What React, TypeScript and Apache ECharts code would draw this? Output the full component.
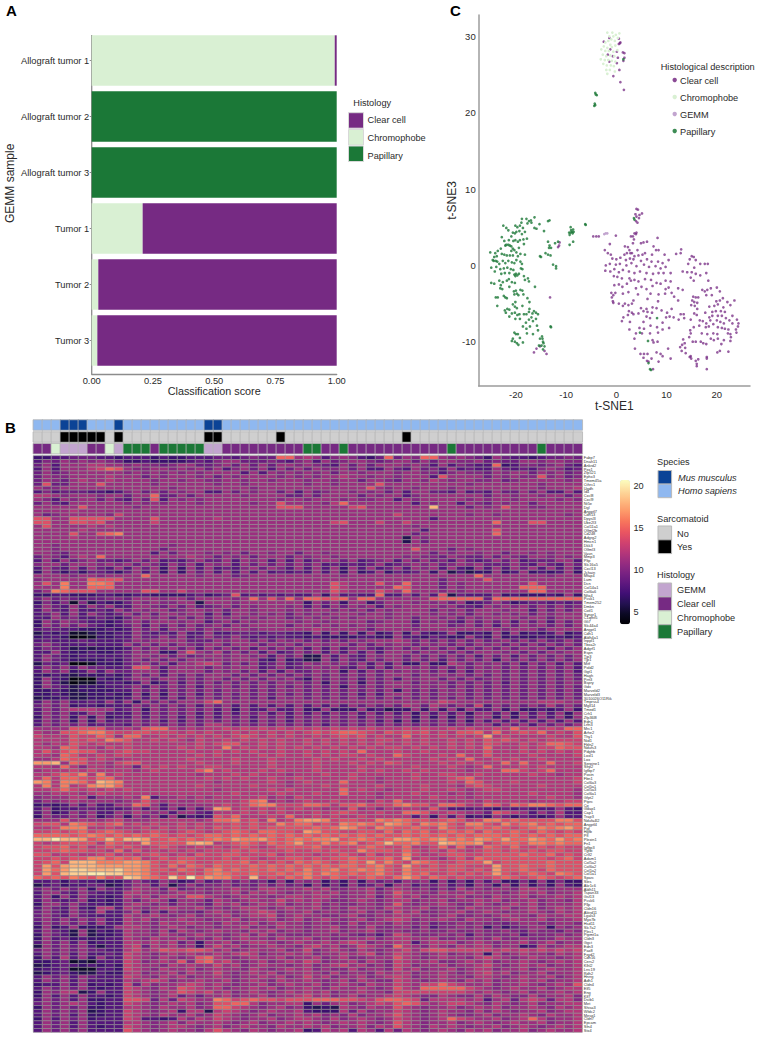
import React, { useEffect, useRef } from "react";
import * as echarts from "echarts";

const FONT = "Liberation Sans, Arial, sans-serif";
const INK = "#2a2a2a";
const COL_CLEAR = "#762a83";
const COL_CHROMO = "#d9f0d3";
const COL_GEMM = "#c2a5cf";
const COL_PAP = "#1b7837";

// Panel A
const samples = ["Allograft tumor 1", "Allograft tumor 2", "Allograft tumor 3", "Tumor 1", "Tumor 2", "Tumor 3"];
const scoreChromophobe = [0.992, 0, 0, 0.208, 0.027, 0.023];
const scoreClear = [0.008, 0, 0, 0.792, 0.973, 0.977];
const scorePapillary = [0, 1, 1, 0, 0, 0];

// Panel C
const chromoPts = [[-1.8,30.5],[-0.8,30.5],[0.6,30.4],[-1.4,30],[-0.6,30],[-0.1,30.2],[0.3,29.8],[-1,29.6],[-1.6,29.4],[-2.2,29.2],[-0.3,29.4],[-1.2,28.9],[-2.5,28.7],[-1.8,28.5],[-0.9,28.6],[-0.2,28.8],[-3,28.3],[-2.2,28.1],[-1.5,28.1],[-0.6,28],[0.2,28.2],[-2.7,27.6],[-2,27.4],[-1.2,27.5],[-0.4,27.4],[-3.1,27],[-2.3,26.9],[-1.6,26.9],[-0.9,26.8],[-0.2,26.7],[-2.6,26.4],[-1.9,26.2],[-1.1,26.2],[-0.5,26.1],[-2,25.6],[-1.3,25.6],[-1.8,25.1],[-0.3,25.4]];
const gemmPts = [[-2.1,4.2],[-2.4,4.1],[-1.8,4.2]];
const papillaryPts = [[-4.1,22.4],[-4.2,22.6],[-3.9,22.3],[-4.3,21.2],[-4.4,20.9],[-4.2,21],[1.4,27],
[-13.6,3.1],[-13.3,2.6],[-13.4,2.3],[-13,2.3],[-14.1,1.6],[-13.6,1.4],[-13.1,1.3],[-15.2,1.2],[-15,1.1],[-12.2,2.9],[-11.6,3.1],[-12,-0.1],[-12.6,0.1],[-12,-0.4],[-9.1,4.3],[-9,4.6],[-8.8,4.4],[-8.6,4.7],[-8.7,4.2],[-9.3,4],[-9.4,4.3],[-8.5,4.4],[-9.1,5],[-8.6,3.1],[-9.3,2.7],[-6.2,5.4],[-6.1,5.3],
[-22.5,5.2],[-21.9,4.9],[-21.5,4.6],[-20.1,5.2],[-19.7,5],[-18.9,5.6],[-18.8,6.1],[-17.9,6.1],[-17.4,5.8],[-17,5.9],[-16.3,6.3],[-17.7,5.5],[-16.9,5.6],[-15.3,5.4],[-16.3,4.9],[-15.9,4.8],[-14.4,4.5],[-13.6,5.8],[-13.3,5.9],[-19.2,5.2],[-18.6,4.9],[-20.6,4.3],[-20.2,4.2],[-19.9,4.4],[-19.3,4.5],[-18.8,4.1],[-18.2,4.4],[-20.9,3.8],
[-22.8,3.7],[-22.3,3.2],[-21.9,2.7],[-21.5,2.7],[-21.2,2.6],[-20.9,2.5],[-20.5,3.2],[-20.1,3.3],[-19.6,3.1],[-19.2,3.3],[-18.5,3.4],[-21.4,3.3],[-22.1,2.6],[-20.6,2.2],[-20.9,1.9],[-20.3,2],[-19.9,1.7],[-19.4,2.3],[-18.4,2.8],[-17.8,3.5],[-23,2.2],[-23.6,1.9],[-24.1,1.6],[-25.1,1.7],[-24.3,1.1],[-23.8,1.2],[-22.8,1.5],[-22.3,1.4],[-21.8,1.3],[-21.2,1.3],[-20.6,1.3],[-19.6,1.2],[-19.1,1.5],[-18.2,1.4],
[-24.6,0.7],[-24.4,0.6],[-24,0.6],[-23.7,0.5],[-23.3,0.2],[-22.6,0.6],[-22.1,0.3],[-21.5,0.6],[-20.8,0.4],[-20.3,0.3],[-19.9,0.7],[-19.1,0.5],[-18.8,0.2],[-24.9,-0.3],[-23.9,-0.2],[-23.1,-0.5],[-22.4,-0.4],[-21.7,-0.3],[-21,-0.5],[-20.5,-0.6],[-19,-0.4],[-18.7,-0.5],[-24.2,-0.8],[-22.9,-1.1],[-22.2,-1],[-21.3,-1],[-20.3,-1.2],[-20,-1.1],[-19.7,-1.3],[-19.4,-1.1],[-20.1,-1.4],[-18.4,-1.4],[-17.6,-1.7],[-24.9,-2.3],[-24.3,-2.4],[-23.3,-2],[-23,-2.6],[-22.6,-2.2],[-21.8,-2],[-21.4,-1.8],[-20.8,-2.2],[-20.2,-2.3],[-18.2,-1.9],[-17.4,-2.1],[-23.1,-3],[-22.7,-3.1],[-21.3,-2.8],[-19.1,-3.2],[-16.2,-2.8],
[-20.4,-3.4],[-20,-3.3],[-19.8,-3.7],[-20.3,-3.8],[-19.5,-3.9],[-18.7,-3.3],[-18.5,-3.8],[-24,-4.2],[-23.6,-4.2],[-22.4,-4],[-22.1,-4.2],[-21.8,-4.3],[-20.1,-4.8],[-17.7,-4.3],[-17.3,-4.8],[-23.7,-5.3],[-21.7,-5.7],[-21.3,-5.8],[-20.6,-5.1],[-20.2,-5.4],[-19.8,-5.6],[-18.7,-5.3],[-17.3,-5.7],[-22.2,-5.9],[-22,-6.2],[-20.8,-6.3],[-20.2,-6.2],[-19.7,-6.5],[-19.3,-6.4],[-18.4,-6.4],[-17.9,-6.4],[-17.4,-6.1],[-16.7,-6.3],[-16.4,-6],[-16,-6.2],[-15.6,-6.4],[-21.3,-6.7],[-20.1,-7],[-19.2,-7],[-16.9,-6.8],[-16,-7],[-18,-7.5],[-17.4,-7.1],[-16.6,-7.3],[-15.8,-7.9],[-13.1,-8],[-13,-8.1],[-18.6,-8],[-17.9,-8.3],[-17.2,-8],[-15.6,-8.5],
[-20.3,-8.8],[-20,-9],[-19.6,-9],[-19.2,-9.5],[-17.8,-8.9],[-16.6,-9],[-20.6,-9.6],[-20.2,-10],[-19.8,-10.2],[-19.5,-10.4],[-18.6,-10.1],[-20.8,-9.9],[-15.2,-9.6],[-14.8,-9.3],[-14.7,-9.6],[-14.6,-10],[-14.5,-10.2],[-14.3,-10.6],[-14.9,-10.5],[-15.4,-10.5],[-14.6,-11],[4.7,-8.8],[6.3,-9.9],[6.4,-12.8],[6.7,-13.6],[6.9,-13.7],[3.5,6.2],[3.6,6],[8.1,-6.9]];
const clearPts = [[-2.5,29.3],[-1.4,29.8],[0.5,29.7],[0.8,29.2],[0.5,29],[0.7,29.1],[-1.2,28.3],[0.1,28],[1.3,27.9],[1.6,27.8],[1.6,27.2],[1.4,26.8],[-1.7,27.6],[-0.7,27.4],[0.3,27.2],[-1.4,26.7],[0.1,26.5],[0.6,25.6],[-0.6,24.8],[0.8,24],[1.5,23],
[-16.4,-11.4],[-15.9,-10.9],[-15.2,-10.6],[-14.3,-11.2],[-13.9,-11.6],[-13.2,-4.2],[-11.3,3],[-11.4,2.6],[-11.6,2.4],
[4,7.4],[4.3,7.3],[3.8,6.7],[4.6,6.6],[5.1,6.8],[4,6.4],[4.5,6.2],[3.9,5.8],[4.2,5.6],[-4.6,3.8],[-4,3.8],[-3.5,3.8],[-0.1,3.9],[3.6,4.2],[3.9,4.1],[4,4.3],[2.9,3.8],[3.3,3.8],[3.5,3.4],[3.3,2.9],[4.9,2.9],[5.4,3],[6.1,3.1],[8.2,3.6],
[-1.3,2.8],[1.7,2.5],[2.3,2.4],[7.4,2.5],[7.9,2],[8.4,2],[-2.3,2],[-1.7,1.6],[-1.1,1.4],[2.6,2],[2.8,1.6],[4.2,2],[5.7,1.6],[1.6,1.4],[2.1,1.6],[3.1,1.6],[3.6,1.2],[4.4,1.3],[5.2,1.4],[7.1,1.4],[9.6,1.4],[12.9,2.1],[12.8,1.6],[11.9,1.5],[15,1.2],[15.4,1.1],[14.6,0.8],[15.8,0.7],
[-0.8,0.9],[0,0.8],[0.8,1],[1.9,0.7],[2.7,0.9],[3.4,0.8],[4.9,0.6],[6.1,0.8],[7,0.5],[8.3,0.5],[9.2,0.3],[10.4,0.7],[-2.1,0],[-1.3,0.2],[-0.1,0.1],[0.7,0.2],[2,0],[3,0.3],[4,-0.1],[5.5,0.1],[6.5,-0.2],[7.8,-0.1],[8.8,-0.4],[9.8,-0.2],[15.5,-0.3],[14.3,0.2],[16.7,0.2],[17.6,0.2],[18.2,0.2],
[-2.2,-0.7],[-1.2,-0.8],[-0.4,-0.5],[0.5,-0.9],[1.3,-0.6],[2.5,-0.8],[3.6,-1],[4.7,-0.8],[6,-1],[7.3,-1.1],[8.4,-1],[9.4,-1],[10.8,-1],[13.2,-0.8],[14.1,-0.9],[15,-0.9],[15.8,-1.1],[16.7,-1.3],[17.9,-1],
[-0.5,-1.4],[0.2,-1.5],[1.1,-1.7],[2.6,-1.7],[2.9,-2],[3.6,-1.9],[4.4,-2.1],[5.7,-1.8],[6.9,-1.9],[8,-2.3],[8.8,-2.4],[9.8,-2],[10.8,-2.1],[14.8,-1.6],[15.4,-2],[18.3,-2],
[-0.4,-2.6],[0.5,-2.5],[1.2,-2.8],[2.1,-2.4],[3.9,-3],[5,-2.8],[6,-3.1],[7.2,-2.7],[9.8,-3.1],[10.4,-2.9],[12.3,-3],[13.2,-3.2],[17.1,-3.2],[17.6,-3.4],[18.1,-3.2],[18.8,-3],[20,-2.9],[20.6,-3.4],[11,-3.6],
[-1,-3.6],[-0.6,-3.9],[-0.2,-3.6],[1.3,-3.7],[2.4,-3.5],[4.3,-3.8],[6.8,-3.7],[8.4,-3.8],[9.7,-3.7],[11.5,-4.1],[15.3,-4.1],[15.8,-4.2],[16.3,-4.2],[17.9,-3.9],[19,-3.9],[21.2,-4.3],
[-0.9,-4.2],[-0.7,-4.7],[3.4,-4.6],[6.2,-4.4],[8.3,-4.7],[12.3,-4.6],[15.1,-4.6],[15.5,-4.8],[16.1,-4.9],[19.9,-4.7],[20.6,-4.6],[22.1,-4.8],[23.5,-4.6],
[-0.6,-4.9],[0.5,-5],[1.3,-5.3],[1.7,-5],[2.4,-5.2],[3.1,-5],[4.9,-5.6],[7.2,-5.5],[8,-5.6],[14.9,-5.2],[15.6,-5.3],[16.1,-5.7],[18.5,-5.4],[19.5,-5.3],[20.2,-5.1],[21.3,-5.5],[22.7,-5.2],
[2.5,-6],[3.1,-6.2],[4.4,-6.3],[5.4,-6],[6,-5.7],[6.2,-6.1],[7.1,-6.2],[9,-5.9],[10.1,-6.2],[11,-5.7],[12.8,-6.4],[13.4,-6.4],[15.5,-6.3],[16,-6.5],[17.7,-6.2],[19.1,-6.1],[19.8,-6],[20.8,-6],[21.6,-6.1],[23.1,-6.6],
[1.4,-6.8],[2.3,-6.5],[3.4,-6.4],[6,-6.7],[6.7,-6.9],[9.9,-6.8],[10.6,-6.7],[11.4,-6.8],[12.4,-7.1],[13.5,-6.9],[16.6,-7.2],[18.5,-6.8],[19.1,-6.6],[20.2,-6.6],[21,-6.6],[21.8,-6.9],[22.5,-7.2],[24,-7.1],[1.1,-7.3],[2.7,-7.4],[5.4,-7.4],[9.2,-7.5],[14.8,-7.1],[17.2,-7.3],[17.9,-7.6],[18.7,-7.2],[19.3,-7.7],[20,-7.2],[20.7,-7.4],[21.4,-7.6],[23.1,-7.6],[24.3,-7.6],
[2.6,-8.4],[4.6,-8.2],[5.5,-8.3],[6.8,-7.9],[8.1,-8.1],[9.2,-8.4],[10.5,-8.2],[14.7,-8.5],[15.4,-8.1],[16.5,-7.9],[17.8,-8.1],[18.4,-8],[20.2,-8.1],[21,-8.2],[21.6,-8.3],[22.3,-8.4],[23.8,-8.4],[24.2,-8],[3.9,-8.9],[5.1,-8.9],[6.7,-8.9],[8.3,-8.8],[14.8,-8.9],[18.1,-9],[19.3,-8.9],[20.1,-9],[22.2,-8.9],[22.7,-9],[17,-8.9],[22.8,-9.4],[23.9,-8.8],
[3.6,-9.6],[7.2,-9.8],[8.2,-10],[13.3,-9.7],[14.5,-9.4],[18.8,-9.6],[19.4,-9.8],[20.2,-9.6],[21.4,-9.8],[22.7,-9.9],[7.4,-10.1],[13.1,-10.4],[13.6,-10.2],[15.2,-10],[15.8,-10],[16.8,-10],[17.3,-10.2],[17.9,-10.3],[10.3,-10.9],[12.7,-10.7],[13.7,-10.8],[20.9,-10.3],[22.3,-11.3],[3.7,-10.9],[4.8,-11.6],[5.5,-11.6],[6.2,-11.6],[8,-11.4],[8.8,-11.6],[9.2,-11.9],[13,-11.2],[13.8,-11.5],[14.6,-12],[14.9,-12.2],[18,-12],[18,-12.2],[20.1,-11.4],[20.6,-11.2],[5.4,-12.1],[6.1,-12.5],[7,-12.2],[8.4,-12.6],[10.8,-12.2],[14.8,-11.9],[16,-12.9],[16.3,-12.3],[15.8,-12.5],[6.4,-12.6],[16,-13.2],[18,-13.6],[7.3,-13.6]];

// Panel B annotation tracks, one code per sample
const speciesNames = ["Mus musculus", "Homo sapiens"];
const speciesColors = ["#0b4396", "#8fb8f0"];
const speciesTrack = [1,1,1,0,0,0,1,1,1,0,1,1,1,1,1,1,1,1,1,0,0,1,1,1,1,1,1,1,1,1,1,1,1,1,1,1,1,1,1,1,1,1,1,1,1,1,1,1,1,1,1,1,1,1,1,1,1,1,1,1,1];
const sarcoNames = ["No", "Yes"];
const sarcoColors = ["#cfcfcf", "#000000"];
const sarcoTrack = [0,0,0,1,1,1,1,1,0,1,0,0,0,0,0,0,0,0,0,1,1,0,0,0,0,0,0,1,0,0,0,0,0,0,0,0,0,0,0,0,0,1,0,0,0,0,0,0,0,0,0,0,0,0,0,0,0,0,0,0,0];
const histoNames = ["GEMM", "Clear cell", "Chromophobe", "Papillary"];
const histoColors = [COL_GEMM, COL_CLEAR, COL_CHROMO, COL_PAP];
const histoTrack = [1,1,2,0,0,0,1,1,2,0,3,3,3,1,3,3,3,3,3,0,0,1,1,1,1,1,1,1,1,1,3,3,1,1,3,1,1,1,1,1,1,1,1,1,1,1,3,1,1,1,1,1,1,1,1,1,3,1,1,1,1];

const genes = ["Fabp7","Dnah11","Ankrd2","Pex1","Zfp521","Ephx3","Tmem45a","Cthrc1","Ugdh","Id4",
"Cxcl8","Cxcl9","Nt5e","Dgl","Angptl7","Cdh13","Dpysl3","Ube2l3","Col11a1","Olfml2b",
"Cd248","Adgrg2","Hmcn1","Dkk3","Olfml3","Vasn","Mmp3","Pltp","Slc16a5","Cxcl13",
"Jchain","Mfap4","Lum","Dcn","Col14a1","Col6a6","Nfix4","Pcsk1","Tmem252","Dmkn",
"Cotl1","Syngr1","C1qtnf5","Gli7","Slc44a4","Angpt1","Cdh1","Aldh4a1","Inppl1","Tbxa2r",
"Adgrf1","Espn","Tjp3","Tjp1","Mitf","Pold2","Ggt1","Hagh","Prrt3","Bspry",
"Gdx","Marveld2","Marveld3","3010026O11Rik","Tmprss4","Mgll14","Tmed1","Crh1","Zfp36l8","Edn1",
"Lrfn3","Mrc1","Arhe2","Thy1","Nid1","Fbln2","Ndufs3","Pdgfrb","Loxl1","Lox",
"Serpine1","Sfrp2","Igfbp7","Postn","Fbn1","Col6a3","Col5a1","Col5a3","Col6a1","Gfpt2",
"Ptprc","Cp","Gdap1","Cap1","Trap3","Ndufa4l2","Angptl4","Pgf","Hgfb","Pfl",
"Plexin1","Fn1","Igfbp3","Tgfbi","Crlf2","Adam1","Col5a2","Col6a2","Col1a2","Col1a1",
"Sparc","Sles","Akr1c6","Aldh11","Tspan33","Gsf13","Pcsk6","Pllp","Cldn16","Aktrd11",
"Lgals3","Myo7b","Hsd11","Slc7a2","Plec1","Ptpmt1a","Cldn3","Ggct","Edn3","Pax8",
"Fxyd2","Cdh16","Cers2","Klhl2","Lrrc19","Rdh2","Hnrrg","Adh1","Cldn4","Elf5",
"Eng","Klf7","Dstb1","Met","Shisa3","Wfdc2","Mesp1","Cldn7","Epcam","Sfn4","Stx4"];

// Expression read per cell (base-36 digit, 4..k = 4..20); blocks of ten columns, last digit is column 61
const heatRows = [
"7788999887 8887877888 9989a99ffb cb8aba879f 9baffbaba9 7b9887899a 9",
"8a9bababa9 7787777898 abb999a98a b8b9abba9a bb9b9bbaab 9a99bbabba a",
"9b8bbbccbb abaa9abb99 ab9b9b9bba ba98b9b9bb baba8b8a98 8f78aa9ab9 8",
"8b8bbbcdfe baabbabab9 b8ab9b8b9b 9baab9b88b 98b9a8b898 8b9898aba8 9",
"9b9abbbbbb ababababab bbb8b8baba bab9bbabbb abbaa8abaa 9babb9bab9 a",
"9baabbbbcb bb9babbbab 9babbbbaba babbcbbabb abbb8ebbbb 9babaaeab9 a",
"9ba9bcbbcb bbbabbabba abbabbabbb abbabb9bba 9bbacbabba ab9abbbbba b",
"9e99bbbebb bbbabbbbbb abbabbbbbb abbabbbbeb bbbbbbbbab bbbbbbabbb b",
"baabbbbbbb bbbbbabbbb bbbbabbbbb bbbbbbbeba bbabbbabbb bbbbbbabbb c",
"8a89998878 ab9b9babb8 8b9babb9b8 b9abbabab9 b8bb998b89 8b99b9b88b 8",
"ccbabbbabb 9bbf99b9bb bbbabbbb99 b9bbbb9bab b8abbbbbbb 9bbabbabb9 b",
"ba8babb9b9 8b9e8babab bbbbbbbabb abbbabaabb 8babbbbbab abbabbbbab a",
"9b98bbbbbb abababbbab bbbbabbebb bbacfbbbbb bb8babb8ba 9babb9bbbb b",
"bbbbbebbbb babbbbbbbb bbbbbbbeee bbbbbdebbb bbbbibbb9b abebbaabbb b",
"bbbbcbbbbb bbbbbbbbbb bbbbbbbbbb bbbbbbbbbb bbbbbbbbbb bbbbbbbbbb b",
"b9abbbbbad bbbbbbbbbb bbbbbbbbbb bbbbbbbbbb dbbbbbbbab babbbbbbba b",
"eebbeeeeeb bbbebbbbbb cbbbbbbbbb bbbbbbbbbb bbbb8bbbbb bbbbbbbbbb b",
"eebbeedebb bbbdbbbbbb bbbbbbbbbb bbbdebbbdb bdbbbbbbbb bfbbbeebbb b",
"bebbbbcbcb bbbbbbbbbb bbbbbbbbbb bbbbbbbbbb bbabbbbbbb bbbbbbbbbb b",
"bbbbbcbbbb bbbbbbbbbb bbbbbbbbbb bbbbbbbbbb bbb8bbbbbb bebbbbbbbb b",
"bbbbebbefg bbbbbbbbbb bbbbbbbbbb bbbbbbbbbb bb9bbbbbbb bfbbbbbbbb b",
"bbbbcbbbbb bbbbbbbbbb bbbbbbbbbb bbbbbbbbbb b6babbbbbb bbbbbbbbbb b",
"bbbbbbbbbb bbbbbbbbbb bbbbbbbbbb bbbbbbbbbb b6b9bbbbbb bbbbbbbbbb b",
"bbabbbbbbb bbbbbabbbb bbbbbbbbbb bbbbbbbbbb bbbbbbbbbb bbbbbbbbbb b",
"bbabbbbbbb bbbb9bbbbb bbbbbbbbbb bbbbbbbbbb bbebbb9bab bbbbbbbbbb b",
"bba9bbbbbb bbb8b9bbba bab9bbabb9 bbabbbbbbb bbbb9babba bb9bbababb b",
"9ba8bcbfbb bbbbbbbcbb 9bab9bbb9b abbabbbbbb babaa9ba99 b9ba9bbaba b",
"8b8b9ab998 9b9b898ab9 9b8bab8b8b 8abb9b89ab 8b9b9a8b98 9b9b8999bb 8",
"abb9bbbaba b9ba8b9b8b ab8b9b9b9b 9b898989b8 9abab9abab 999b98b98b 9",
"8b98b8b98b 8b9b7b7b8b 898ab9ba8b 8b8b7b8b89 b8bab8b87b 8b8b9b8b8b 8",
"7b97979987 9b8b7b7b9b 8b8b8b8989 8b8b7b78b7 989b7b6867 7b78b7878b 7",
"bbbbabbabb bbfbbbbbab bb9abbbbbb bbbbabbbbb bbbbbbbbbf bbbbbbbabb b",
"abbbbbfeee bbbbbbbbbb bbbbbbbbbb bbbbbbbbbb bbbbb9bbbb ebbbbbbbbb b",
"bebgbbggfb bbbbbbbbbb bbbbbbbbbb bbbecbbbeb bfbbb9babb bbbbbebbbb b",
"bbbgbbfffb bbbbbbbbbb bbbbbbbbbb bbbecbbbbb febbb9babb bbbbfffbbb b",
"9bgfeeebbb bbeebbdbbb bbbbbbbbbb bbbecbbbec bfbbbababb bbbbbffbbb b",
"7788777887 7887777897 89e8989898 8b7c8988f8 8b8b8e6988 8b7877787b 7",
"9b9a9899aa 9bbbabb9bb bbabfbebfb ffeefbffbb bbbbefffff 9fffffffff f",
"7a8a5a6877 9babaabb6b bbabbbbbbb 7b9b7bb79b bbabab9b78 9b97899898 9",
"8b98b8b9b8 8bba9b9b89 ab9babbbab 8b8b9bab8b abbbbab998 babab9b9b9 a",
"8b98b8898b 9babb9abba b9bbabbbab abbabab9ba bbbb9bab9b bbabb8b9b9 b",
"89b8b8b989 b9b9bbabb8 b8bbabab9b ababbbabba bbbbabab9b babab9babb b",
"88b9a88987 9bbab9b9b9 babababb9a babababbba bb9bbab9ba bbbbabb9bb b",
"7b9ba98878 ab9bbbabb8 ab9babbbba bbabbbb9ab bb8bab98b9 b9b8b9b8b9 b",
"7b9b9b9878 9b8b9b9b9a b9babbbb9b bababababb bb9bbb9ab9 b8b9bab9b9 b",
"8998877787 8b9b8bab9b abbbabbbbb bcbbbbb9bb bbabbbbbbb bbabbb9bbb b",
"6878556778 8b9898b88b 8899989988 7b7b7b7b78 b7b878b778 7b7b7878b7 8",
"7887445778 8b99b9b89b 99b9898988 7877778877 b8879877b8 7b78778787 8",
"8988898888 9babbbb999 babb9b9bab 9b9b9babbb cb9b9b9b9b 9ab9b9b99b 9",
"9b98889888 b9b9b9ba9b b9bbb9bab9 bbabb9b9ba bb9bab9b9b ab9b9b9b9b 9",
"8a98676777 8b9b9b9b8b 9b9b8b9b9b 8b8b8ab98a b9b9b9b8b9 b9b9bab8b9 b",
"88b8778778 9bab77beba c9b9b8b89b 9b8b8b8b8b bb9bab9b9b bbab9b9bab b",
"8b98788888 9bbab9b9ab babbab8b9b 66b8b98bab b9b9b9b9b8 b9b8b9b9b9 b",
"8b98777787 9b9b9b9bba babbb87b78 66b8b98b9b b9b9b8b9b9 b7b9b9b9b9 b",
"6989445777 9ab9b8bbcd c9b9b89b89 babab9b8b8 b77b77cb9b ab9b8b9b8b 8",
"8b9b8b9988 9eeb8bbbb9 babbb89b89 abab98b8b8 bbab9b9b9b ab9b9b9b9b 8",
"8b9b78b8b9 9bbb8bbbb9 bab9b8b8b9 9bab7b8b9b abab9b8b8b ab9b9b9b9b 8",
"7787677787 8b9b8b9b9b bb9b9b9b9b 9b9b9b9b9b bb9babab9b 9b9b9b9b9b 9",
"7b87444877 9bb9bb9b9b b9b9b9bab9 7b9b9b8b9b 8babb9b9b9 ab9b9b9b9b 9",
"7b86455788 78b78b8b9b 9b9b9b9bab 9b7b9b7b9b bb9bab9b9b 9b8b9b9b9b a",
"7b98677788 9b8b9b9b8b ab9b9b9b9b 9b9b7b9b9b bbabab9b9b 9b9b9b9b9b 9",
"7787677778 8b9b8b9b9b 9bab9b9bab 9b9b9b9b9b 7b9b9bab9b 9b9b9b9b9b 9",
"7787667787 7b7b7b9b8b 9b9b9b9b9b 9b9b9b8b8b bb9b9bab9b 9b9b9b9b9b 9",
"6778667777 8b8b8b8b9b 9b9b9b8bab 9b9b9b9b9b 9b9b9b9b9b 9b9b9b9b9b 9",
"8b9b8898b8 b7b9b9bbbd fbbbbbbbbb bbbbbbbbbb bbbbbdcbbb bbbbbbcccb b",
"9b9b788788 8b9b9b9b8b 9b8b8b8b8b 8b8b8b9b9b 9cb9cb9b9d 8b9b9b9c9b 9",
"8b9bcccbb8 9b7b9b9b9b 8b7b88b88b 77b777b786 77b7b7b7b8 8b7b77878b 7",
"8b9b88bb88 8b8b9b9b8b 8b8b9b8b8b 8b8b9b8b8b 8b7b8b8b7b b8b7b8b8b7 b",
"7b9b7b7b78 8b8b9b8b8b 8b9b8b9b8b 9b9b9b8b9b 9b7b7b7b8b b7b7b8b8b7 b",
"8b9b7b7b89 9b9b8b8b9b 9b9b8b9b8b 9b9b9b9b8b 7b7b9b8b7b 8b8b8b8b8b 8",
"8b9b9b8999 8b9b9b9b9c cb9b9b9b9b 9b8b9b9b9b 9b9b9b9b9b b8b9b8b9b9 b",
"bbbbeeeebb cbeffcbcbc cdcdcdcdcd cdcdcdcdcc cdcdccdcdc cdcfcdcdcf f",
"cbbeefgged deedddcdcd ccdcdcdcdc dedeffedce dedecdceef cfcdedfcdc e",
"dccceddfeb ffccdcdcdc dcdedcdcdc cdcdedecdc cfcdcdcdcd hcdccccdcc e",
"ccccededgf eccdcdcbdc cdcdcdcdcc dcdcdcdcdd cdcdccdcdc ededcdcddd d",
"cbccedcdcc dcccccccdc deeccdcdcc dcdcdcdcdc cdcdccdcdc edccdcdffe d",
"ccbfeccbdc dcccccdcdc cgcdcdcdcd cdcdcdcdcd dcdcdcdcdc fcccdcddfe e",
"cecefeeccd eddccccdcc dcdcdccdcc dcdcdcfccc dccdcccccc ecccdcdcdc d",
"ccbfeccdcd dcccccccdc dccccdcdcc dcdcddcdcc fdcccdcfcc eccccdcccc d",
"bbcfeecdcb cccccccdcc ccdcccdccc cdcdccdcdc ccccdcdcfc cdcdccdccc c",
"hhibfeccbd eeccccccdc ccdcccdccc cdcccdcdce dccccdcdcd ccfcfccfcc d",
"ccbfcaccbc c9dcdcdccd dcccccdccc cdccccdccc ccdcccdcbc fcccdcdccc c",
"bcccdcdccc cbcdcccceg cdcccdcdcc cdccccdcdc cdcdccccbc ccffdcdfcc c",
"ccdfegcgcd ccccccccbc ccdcdcccbc ccdccdcccc ccdccddccd cccccdccbc c",
"cfcffedffc cccccccccd cdcdccdccd cccccdccbc ccdcccdefc cccccccccc d",
"hgcggfdihg cccccccccc bcccccdcbc dcccfcccbc ccccccdcfe cccdcccccc d",
"cgcgcdghhf ccccccccdc ccccdcccbc ccdcdcccdc cccdcccbde dcccccdccc c",
"ccdfdcdcdc dccccccccc bcccccdcdc ccccfcdccb cccdccdcbc ddcccccccc b",
"bbcccbcdcc cccccccccc ccdccccdcc cdccfcccbc ccdcccbcbc cccccdcccc b",
"abbbcc8bbb cbg8bbcbcb cccccdbcbd ccccccccbc ccccdcccbc cccccccdcc b",
"9babcbbbba bcecbcbbcc cccdfgbcbc dccdcccbdc fcccccbccb dccccbcccd d",
"7878b8b88b bfeb8bbbbb cdcdfggddd ffeceefddd fgeecffecc fecfeggfef f",
"8b78899888 9b8b8b7b8b hgcdcdcdcd ccbcbebcac bccbeb8889 87989888b8 7",
"8b78b9b88b acbab8bb98 cccdcdcdcc cdcdedccdc cffeccdcbb 9edcb8b9c8 8",
"7b99b9b79b 7b9b7b6878 edfcccdcfc cdcdccdccc cc8c7c8c78 7b979878b8 8",
"bbbebcbbcd bbbcccccbc ffgdecgcdg hhgdeeddgf gfeedefecd ggefeeeegg e",
"deecgfedef cdcdccdcdc ddededdgef fdedgfgfeh gfdgfgedgg edgefgefef f",
"ccdgggccdc ccdcdcdcdc edededeeee efefhgedgf eefedgedef efedefgfgh f",
"ddedefdefe dcdedcdedc defedffeed hgeeddeedf dfefdefefd feefedfede d",
"ffffefgfef efefededef fefefefefe fefefefefe efefefefef ffefefefef f",
"iikiihefif iiheefefef gfhgghfefg fgghefgfef hhgfghfgfh gfhffhgfhf g",
"dcdeeeecfe ddheeeehih cdefedfefh eegefgdefi ffgeeihggh deffeggfgf f",
"deefdecded edcdedccdc dcdedcdeee efddddefed dfccdfcfcc fedfddeded d",
"ddefeeddcf cecdcdcdcd ddededdded dededdgeee dfdcdcedcd eedededeed d",
"eecddccdec dcdedcdced deedddecdd dcddedcecd dgdccdeedd eeeefeefde d",
"ddedeeggef efcdedeedd dededcddee dedeefeeef dhcdcbdecf eeeeeeedef d",
"defdiiiggg hhgedefedd eeefdededf efedefeheg edgfeddeee hdeeeeefee e",
"dhehiiihhh hhgedfdfed feeefefefe fefeffefge dhededeedd dheefeefee e",
"dhfhjjiiij hhgeedfedf gefefefefe gefgefgfge dgeeedeede dheefedfee e",
"dheijjkkjj hhgedededf gfeefeefef gegfefefge dgefddeded ehedefedgf e",
"fefegfegee jigfejfkfh ggedidedfe gedfedefed fhfdfededd defedefede f",
"8897988777 9b98b978b8 9b9b9a7b7b ab7a7b7b9a 8bab7b7a7b 8b77a7b7a7 7",
"6897889967 9bb8b69b9a ab9a9b9b9a 7b7a7b89b7 bb8a9b8a7b a7b7b7a7b8 7",
"9b9b9b7b98 acbb9c9aba bbcbaccbbb cbcaabbc9b cbab9b9cab abbaccbabb b",
"8bb98b9888 ccbbabcbba bbcacbcbab bcbcabbcab ecbbacbbcb bbabcbcabb c",
"8b7b8b8878 cbcaccbeec babcbbabcc bccbabbc9b dbcabbbcab acbbcabbcb c",
"8b989b7878 b9bcb8bbb9 cbabcbbdbc bcbaabcbab ccabbcabbc bcabbcabba c",
"7bb9b98878 bcbab9bba9 cbcabcbcab bcabaabbab ebabbcbaac babcbcabbb c",
"8b98b87cc8 cbabccbbca babccbabcb bcabacbbac cbbcabbacb bbcabcabcb c",
"9b98b98c88 ac8b8baa9b cbabcdcabb cabbabcaba dbcaabbcab cbabbcbacb c",
"9b98b98888 cbbcbabcab bcabccdabc bbaabcaabb ccbbabcaab abcbbacbbc c",
"9b9b9b9b88 cbcabbcbba bbcabbcabc abcbabcabc dcabbcbacb babcbbcabb c",
"8b9b9b8b88 cbbacbbcbb acbbcabcbb abbaacabba cbab9aabab aa9abbaabb a",
"7b78b7778b ccbabcbabb abbcabacbb abbcabacaa bb9b8aabab 7a79abb7ba b",
"8b986b6878 cbbac9cbab cbbacbcabb abbcabbcaa baabaabaab aaba9baa9b a",
"7b986b6778 cbbacbabcb babcacabaa abbaba9a8a dcaaabab8b aaab8aaaba b",
"7b89787788 cbacbbcaba cabcbbacbb cabaabbcab ccbbcaabab acaabaaacb b",
"8b9b8b7888 ccbcbc9b7b bcabccbabc bbcbcdcabb cc8bcccabc babbcabcab b",
"6b9b9b8688 cd9cbcab7b dbcabbcbba cdbcabdcba fcbacbacbc cabb78cabc c",
"9b9b9b9988 cdbceddeed bcabcbbcab dabcbacbab cdbdeedddd dcdcdcdcdc d",
"8b9b8b8898 dcbabcbcbb cbcdcabbcb cabbcbcdab dcbabcabbc 7cabcbbacb c",
"7b8c8b7b88 dcbacbabef cbabcbbcab bcabcaabbb ecbabcbbac dcbabcbbab c",
"7789565888 dcabcbeaef cdbabcabcb dcabbcacba dcbbcaabcb cabbcbabcb c",
"6789878787 dcbbacbcbb dbcabcbbab cabcdbcaba dcabbcabbc dbabcbcabb c",
"7889555887 dcbacbbcab cbbacbabcb cabaacabba dbcabbcabc cabbcabcbb c",
"6789766877 ccabbcacbb dbabcbcabb cbacabbacb ccabbcbabc dbcabbcabb c",
"8b9b8b9888 dcbacbcabb cbabbcbcab dbcabbcabc dcabbcbbac cbabcbbcab c",
"8b9b8b8888 cbcdcabbcb bcabcbacbb cbabcacbaa dcbabcbacb cabbcbcabb c",
"788b8b7878 d9cabbcdcb cbabbcabcb bcabcbacbb dcbddfdcbb cabbcbabcb e",
"8b9b9b8788 dcbacbedcb cabbcbcabb cbacbbcbab ecbfffffdc babcbbcabc c",
"7bacc67b88 dcbabcedcd bcabcbabcb cbcabbcbba ddddddddcb cbabcabbcb c",
"7b8b8b8878 dcbabc9b9b bcabbcabbc dbcabcabbc dcbaacbaac acbaacabbc a",
"8b9b8b7788 eed9c9dcbb gfdefeedee efffeedcef fed9ccccbc 8bc9cdc9cc a",
"9b9bcb8788 dcbabcbcab eeffcabbcc 7b9bcabcdc efecbcddcb acbabcabbc c",
"7b9b9b7788 ccbacbbcab ffdcbabcab 7676cbacbb ecbabbcabc bcabbcbacb c",
"8b9b9b6788 dcbabc7cc6 cdcbabcbbc 8777c9cabb dcbabcbbac acbabbcabc c",
"8b9b8b7788 dcbacbbcab dcbabcabbc bcabacabbc ecbabcbaab cabbcbacbb c",
"7b8b9b7888 dc8878cacb dcbabbcabc cbacabcbab dcbabcfdcb bcabcfcabb c",
"8b9b8b8888 ccbabcacbb cbabcabbcb cbabcbcbab ecbabbcabc babcbbcabb c",
"8b9b8b8788 dcbabccbab cabcbbacbb cbcabbcacb ecbacbcbab bcabcbabcb c",
"8b9b9b8888 ecbabcbbac ecbacbabbc 78cbc8cb8c 9cbabcbacb cabbcabcbb c",
];

const magma = ["#000004","#0b0924","#231151","#410f75","#5f187f","#7b2382","#982d80","#b73779","#d3436e","#eb5760","#f8765c","#fd9a6a","#febb81","#fddc9e","#fcfdbf"];
const colorbarTicks = [5, 10, 15, 20];
const scaleMin = 3.55;
const scaleMax = 20.7;

const heatData: number[][] = [];
heatRows.forEach((row, r) => {
  row.replace(/ /g, "").split("").forEach((ch, c) => heatData.push([c, r, parseInt(ch, 36)]));
});

const columns = speciesTrack.map((_, i) => String(i + 1));
const trackData = (t: number[]) => t.map((v, i) => [i, 0, v]);

const txt = (text: string, x: number, y: number, size = 9.2, extra: any = {}) => ({
  type: "text", x, y, silent: true, ...extra.el,
  style: { text, fontFamily: FONT, fontSize: size, fill: INK, textAlign: "left", textVerticalAlign: "middle", verticalAlign: "middle", ...extra.style },
});
const swatch = (x: number, y: number, w: number, h: number, fill: string, stroke = "#b9b9b9") => ({
  type: "rect", silent: true, shape: { x, y, width: w, height: h }, style: { fill, stroke, lineWidth: 1 },
});

const legendA = [["Clear cell", COL_CLEAR, 112.7, 120], ["Chromophobe", COL_CHROMO, 129.5, 138], ["Papillary", COL_PAP, 146, 155.5]] as const;
const legendC = [["Clear cell", COL_CLEAR, "0.85"], ["Chromophobe", COL_CHROMO, "1"], ["GEMM", COL_GEMM, "1"], ["Papillary", COL_PAP, "0.85"]] as const;

const graphicEls: any[] = [
  txt("A", 6, 10.5, 15, { style: { fontWeight: 900, fill: "#000" } }),
  txt("B", 5, 427, 15, { style: { fontWeight: 900, fill: "#000" } }),
  txt("C", 450, 10.5, 15, { style: { fontWeight: 900, fill: "#000" } }),
  { type: "line", silent: true, shape: { x1: 91.7, y1: 35, x2: 91.7, y2: 374 }, style: { stroke: "#8c8c8c", lineWidth: 1.3 } },
  txt("GEMM sample", 10, 183.3, 12, { el: { rotation: Math.PI / 2 }, style: { textAlign: "center" } }),
  txt("Histology", 353.3, 103),
  ...legendA.flatMap(([n, c, y, ty]) => [swatch(348.5, y, 15, 15.5, c, "#d8d8d8"), txt(n, 367.5, ty)]),
  txt("Histological description", 660.7, 67),
  ...legendC.flatMap(([n, c, o], i) => [
    { type: "circle", silent: true, shape: { cx: 674.7, cy: 80 + i * 17, r: 2.2 }, style: { fill: c, opacity: Number(o) } },
    txt(n, 680, 80.5 + i * 17),
  ]),
  txt("Species", 657, 462),
  ...speciesNames.flatMap((n, i) => [swatch(658, 470.5 + i * 13.6, 13.6, 13.6, speciesColors[i]), txt(n, 678, 477.7 + i * 13.3, 9.2, { style: { fontStyle: "italic" } })]),
  txt("Sarcomatoid", 657, 518.7),
  ...sarcoNames.flatMap((n, i) => [swatch(658, 526 + i * 13.8, 13.6, 13.8, sarcoColors[i]), txt(n, 677, 533.8 + i * 13.5)]),
  txt("Histology", 657, 575),
  ...histoNames.flatMap((n, i) => [swatch(658, 583 + i * 13.9, 13.6, 13.9, histoColors[i]), txt(n, 677, 590.3 + i * 13.8)]),
  ...colorbarTicks.map((t) => txt(String(t), 633.5, 480 + ((scaleMax - t) / (scaleMax - scaleMin)) * 144.3, 9.2)),
];

export default function App() {
  const ref = useRef<HTMLDivElement>(null);
  useEffect(() => {
    const chart = echarts.init(ref.current!, null, { renderer: "svg" });
    const hiddenCat = (gridIndex: number, data: string[]) => ({
      type: "category", gridIndex, data, show: false, boundaryGap: true,
    });
    const annot = (xAxisIndex: number, track: number[]) => ({
      type: "heatmap", xAxisIndex, yAxisIndex: xAxisIndex, data: trackData(track), progressive: 0,
      itemStyle: { borderColor: "#b4b4b4", borderWidth: 0.8 }, emphasis: { disabled: true },
    });
    const scat = (name: string, data: number[][], color: string, opacity: number) => ({
      name, type: "scatter", xAxisIndex: 1, yAxisIndex: 1, data, symbolSize: 2.7, itemStyle: { color, opacity }, progressive: 0, silent: true,
    });
    chart.setOption({
      animation: false,
      textStyle: { fontFamily: FONT },
      tooltip: { show: false },
      grid: [
        { left: 91.7, top: 32.5, width: 245, height: 336 },
        { left: 478.7, top: 15, width: 271.3, height: 371 },
        { left: 33.3, top: 420, width: 549, height: 10 },
        { left: 33.3, top: 432, width: 549, height: 10 },
        { left: 33.3, top: 443.7, width: 549, height: 10 },
        { left: 33.3, top: 455.7, width: 549, height: 576.6 },
      ],
      xAxis: [
        { type: "value", gridIndex: 0, min: 0, max: 1, interval: 0.25, offset: 5.5, splitLine: { show: false },
          axisLine: { show: true, lineStyle: { color: "#8c8c8c", width: 1.3 } }, axisTick: { show: false },
          axisLabel: { fontSize: 9.3, color: INK, margin: 2, formatter: (v: number) => v.toFixed(2) },
          name: "Classification score", nameLocation: "middle", nameGap: 11.5, nameTextStyle: { fontSize: 10.8, color: INK, verticalAlign: "top" } },
        { type: "value", gridIndex: 1, min: -27.4, max: 26.6, splitLine: { show: false },
          axisLine: { show: true, onZero: false, lineStyle: { color: "#9c9c9c", width: 1.5 } },
          axisTick: { show: false, customValues: [-20, -10, 0, 10, 20] },
          axisLabel: { fontSize: 9.5, color: INK, margin: 3, customValues: [-20, -10, 0, 10, 20] },
          name: "t-SNE1", nameLocation: "middle", nameGap: 12, nameTextStyle: { fontSize: 12, color: INK, verticalAlign: "top" } },
        hiddenCat(2, columns), hiddenCat(3, columns), hiddenCat(4, columns), hiddenCat(5, columns),
      ],
      yAxis: [
        { type: "category", gridIndex: 0, data: samples, inverse: true, axisLine: { show: false },
          axisTick: { show: true, length: 2, alignWithLabel: true, lineStyle: { color: "#8c8c8c" } },
          axisLabel: { fontSize: 9.3, color: INK, margin: 2.5 } },
        { type: "value", gridIndex: 1, min: -15.8, max: 32.8, splitLine: { show: false },
          axisLine: { show: true, onZero: false, lineStyle: { color: "#9c9c9c", width: 1.5 } },
          axisTick: { show: false, customValues: [-10, 0, 10, 20, 30] },
          axisLabel: { fontSize: 9.5, color: INK, margin: 3, customValues: [-10, 0, 10, 20, 30] },
          name: "t-SNE3", nameLocation: "middle", nameGap: 17, nameRotate: 90, nameTextStyle: { fontSize: 12, color: INK } },
        hiddenCat(2, ["Species"]), hiddenCat(3, ["Sarcomatoid"]), hiddenCat(4, ["Histology"]),
        { type: "category", gridIndex: 5, data: genes, inverse: true, position: "right",
          axisLine: { show: false }, axisTick: { show: false },
          axisLabel: { interval: 0, fontSize: 3.9, color: "#333", margin: 1.5, hideOverlap: false } },
      ],
      visualMap: [
        { type: "piecewise", show: false, seriesIndex: 7, dimension: 2, pieces: speciesColors.map((color, value) => ({ value, color })) },
        { type: "piecewise", show: false, seriesIndex: 8, dimension: 2, pieces: sarcoColors.map((color, value) => ({ value, color })) },
        { type: "piecewise", show: false, seriesIndex: 9, dimension: 2, pieces: histoColors.map((color, value) => ({ value, color })) },
        { type: "continuous", show: true, seriesIndex: 10, dimension: 2, min: scaleMin, max: scaleMax, left: 620, top: 480, padding: 0,
          itemWidth: 10, itemHeight: 144.3, calculable: false, hoverLink: false, inRange: { color: magma }, textStyle: { fontSize: 1, color: "transparent" }, text: ["", ""] },
      ],
      graphic: { elements: graphicEls },
      series: [
        { name: "Chromophobe", type: "bar", stack: "s", barWidth: "90%", data: scoreChromophobe, itemStyle: { color: COL_CHROMO }, silent: true },
        { name: "Clear cell", type: "bar", stack: "s", data: scoreClear, itemStyle: { color: COL_CLEAR }, silent: true },
        { name: "Papillary", type: "bar", stack: "s", data: scorePapillary, itemStyle: { color: COL_PAP }, silent: true },
        scat("Clear cell", clearPts, COL_CLEAR, 0.75),
        scat("Chromophobe", chromoPts, COL_CHROMO, 1),
        scat("GEMM", gemmPts, COL_GEMM, 1),
        scat("Papillary", papillaryPts, COL_PAP, 0.8),
        annot(2, speciesTrack), annot(3, sarcoTrack), annot(4, histoTrack),
        {
          type: "custom", xAxisIndex: 5, yAxisIndex: 5, data: heatData, progressive: 0, silent: true,
          encode: { x: 0, y: 1 },
          renderItem: (_p: any, api: any) => {
            const c = api.coord([api.value(0), api.value(1)]);
            const s = api.size([1, 1]);
            return {
              type: "rect",
              shape: { x: c[0] - s[0] / 2, y: c[1] - s[1] / 2, width: s[0], height: s[1] },
              style: { fill: api.visual("color"), stroke: "#8f8f8f", lineWidth: 0.6 },
            };
          },
        },
      ],
    });
    return () => chart.dispose();
  }, []);
  return <div ref={ref} style={{ position: "absolute", left: 0, top: 0, width: 757, height: 1040 }} />;
}
